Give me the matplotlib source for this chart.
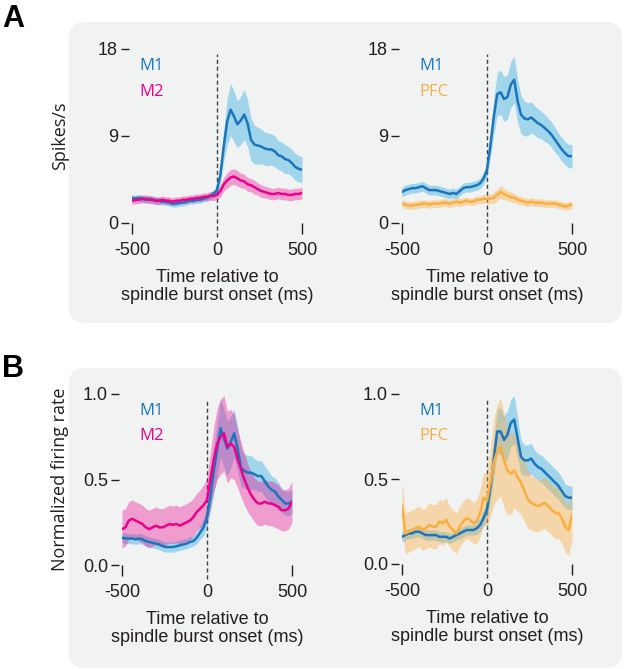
import numpy as np
import matplotlib
matplotlib.use("Agg")
import matplotlib.pyplot as plt
from matplotlib.patches import FancyBboxPatch

plt.rcParams['font.family'] = ['Liberation Sans', 'DejaVu Sans']

# time axis (ms relative to spindle burst onset), 20 ms bins
t = np.arange(-500, 501, 20)

# ---- Panel A, left: spikes/s, M1 vs M2
a_m1 = [2.6, 2.5, 2.6, 2.5, 2.4, 2.5, 2.4, 2.3, 2.3, 2.2, 2.2, 2.1, 2.0, 2.0, 2.1, 2.1, 2.2,
        2.3, 2.3, 2.4, 2.4, 2.5, 2.6, 2.8, 3.0,
        3.4, 5.0, 8.0, 10.5, 11.7, 11.0, 10.2, 10.6, 11.2, 10.3, 8.6, 8.1, 8.0, 7.9, 7.7, 7.6,
        7.6, 7.4, 7.0, 6.9, 6.6, 6.5, 6.2, 5.8, 5.6, 5.5]
a_m1_sem = [0.35, 0.35, 0.35, 0.35, 0.35, 0.35, 0.35, 0.35, 0.35, 0.35, 0.35, 0.35, 0.35, 0.35,
            0.35, 0.35, 0.35, 0.35, 0.35, 0.35, 0.35, 0.35, 0.35, 0.35, 0.4,
            0.5, 0.9, 1.6, 2.4, 2.7, 2.6, 2.4, 2.5, 2.6, 2.4, 2.2, 2.0, 1.9, 1.8, 1.7, 1.7,
            1.6, 1.6, 1.5, 1.5, 1.5, 1.4, 1.4, 1.4, 1.35, 1.35]
a_m2 = [2.3, 2.4, 2.4, 2.5, 2.5, 2.4, 2.4, 2.3, 2.3, 2.4, 2.3, 2.3, 2.2, 2.3, 2.3, 2.4, 2.4,
        2.5, 2.5, 2.6, 2.6, 2.7, 2.7, 2.8, 2.8,
        2.9, 3.3, 4.0, 4.4, 4.7, 4.8, 4.6, 4.4, 4.3, 4.0, 3.9, 3.7, 3.5, 3.3, 3.2, 3.1,
        3.0, 3.0, 3.1, 3.0, 3.0, 2.9, 2.9, 3.0, 3.0, 3.1]
a_m2_sem = [0.4, 0.4, 0.4, 0.4, 0.4, 0.4, 0.4, 0.4, 0.4, 0.4, 0.4, 0.4, 0.4, 0.4, 0.4, 0.4, 0.4,
            0.4, 0.4, 0.4, 0.4, 0.4, 0.4, 0.45, 0.5,
            0.5, 0.6, 0.7, 0.8, 0.8, 0.8, 0.8, 0.75, 0.75, 0.7, 0.7, 0.7, 0.65, 0.65, 0.6, 0.6,
            0.6, 0.6, 0.6, 0.6, 0.6, 0.6, 0.6, 0.6, 0.6, 0.6]

# ---- Panel A, right: spikes/s, M1 vs PFC
a2_m1 = [3.2, 3.4, 3.5, 3.6, 3.6, 3.7, 3.8, 3.6, 3.4, 3.4, 3.4, 3.3, 3.2, 3.1, 3.0, 3.1, 3.0,
         3.3, 3.6, 3.7, 3.7, 3.8, 3.9, 4.1, 4.6,
         5.5, 8.0, 11.0, 13.3, 13.5, 12.8, 13.0, 14.3, 14.8, 12.6, 11.2, 10.8, 10.7, 10.9, 10.6,
         10.3, 10.1, 9.8, 9.5, 9.1, 8.6, 8.1, 7.6, 7.2, 6.9, 6.9]
a2_m1_sem = [0.5, 0.5, 0.5, 0.5, 0.5, 0.5, 0.5, 0.5, 0.5, 0.5, 0.5, 0.5, 0.5, 0.5, 0.5, 0.5, 0.5,
             0.5, 0.5, 0.5, 0.5, 0.5, 0.5, 0.55, 0.6,
             0.7, 1.2, 1.8, 2.2, 2.3, 2.3, 2.3, 2.4, 2.4, 2.2, 2.0, 1.8, 1.7, 1.6, 1.5, 1.5,
             1.4, 1.4, 1.3, 1.3, 1.3, 1.2, 1.2, 1.2, 1.2, 1.2]
a2_pfc = [2.0, 1.9, 1.8, 1.8, 1.9, 1.9, 2.0, 2.0, 1.9, 2.0, 2.0, 2.0, 2.1, 2.1, 2.0, 2.1, 2.2,
          2.1, 2.2, 2.3, 2.2, 2.2, 2.4, 2.4, 2.5,
          2.5, 2.5, 2.6, 2.9, 3.2, 3.0, 2.8, 2.7, 2.6, 2.4, 2.3, 2.2, 2.1, 2.2, 2.1, 2.1,
          2.1, 2.0, 2.0, 2.0, 2.0, 1.9, 1.8, 1.7, 1.8, 1.9]
a2_pfc_sem = [0.4, 0.4, 0.4, 0.4, 0.4, 0.4, 0.4, 0.4, 0.4, 0.4, 0.4, 0.4, 0.4, 0.4, 0.4, 0.4, 0.4,
              0.4, 0.4, 0.4, 0.4, 0.4, 0.4, 0.4, 0.45,
              0.45, 0.5, 0.55, 0.6, 0.65, 0.6, 0.55, 0.5, 0.5, 0.45, 0.45, 0.4, 0.4, 0.4, 0.4, 0.4,
              0.4, 0.4, 0.4, 0.4, 0.4, 0.4, 0.4, 0.4, 0.4, 0.4]

# ---- Panel B, left: normalized firing rate, M1 vs M2
b_m1 = [0.16, 0.155, 0.155, 0.155, 0.15, 0.155, 0.15, 0.14, 0.135, 0.13, 0.125, 0.12, 0.11,
        0.105, 0.105, 0.105, 0.11, 0.115, 0.12, 0.125, 0.135, 0.14, 0.16, 0.19, 0.22,
        0.28, 0.40, 0.55, 0.68, 0.80, 0.74, 0.68, 0.72, 0.77, 0.68, 0.57, 0.55, 0.54, 0.54,
        0.53, 0.52, 0.52, 0.49, 0.46, 0.44, 0.43, 0.40, 0.38, 0.36, 0.36, 0.37]
b_m1_sem = [0.03, 0.03, 0.03, 0.03, 0.03, 0.03, 0.03, 0.03, 0.03, 0.03, 0.03, 0.03, 0.03, 0.03,
            0.03, 0.03, 0.03, 0.03, 0.03, 0.03, 0.03, 0.03, 0.035, 0.04, 0.05,
            0.06, 0.09, 0.13, 0.16, 0.17, 0.17, 0.16, 0.15, 0.14, 0.13, 0.11, 0.10, 0.10, 0.10,
            0.09, 0.09, 0.09, 0.09, 0.09, 0.08, 0.08, 0.08, 0.07, 0.07, 0.07, 0.07]
b_m2 = [0.21, 0.22, 0.26, 0.27, 0.26, 0.25, 0.24, 0.22, 0.21, 0.22, 0.23, 0.22, 0.22, 0.23,
        0.24, 0.235, 0.24, 0.23, 0.24, 0.25, 0.26, 0.28, 0.31, 0.33, 0.35,
        0.38, 0.50, 0.62, 0.71, 0.75, 0.77, 0.69, 0.71, 0.69, 0.62, 0.56, 0.50, 0.45, 0.41,
        0.38, 0.36, 0.36, 0.37, 0.36, 0.36, 0.35, 0.34, 0.32, 0.32, 0.33, 0.37]
b_m2_sem = [0.11, 0.11, 0.11, 0.11, 0.11, 0.11, 0.11, 0.11, 0.11, 0.11, 0.11, 0.11, 0.11, 0.11,
            0.11, 0.11, 0.11, 0.11, 0.11, 0.11, 0.11, 0.11, 0.11, 0.11, 0.12,
            0.13, 0.16, 0.19, 0.21, 0.22, 0.22, 0.21, 0.20, 0.19, 0.17, 0.16, 0.15, 0.14, 0.13,
            0.13, 0.13, 0.13, 0.13, 0.13, 0.13, 0.13, 0.13, 0.12, 0.12, 0.12, 0.12]

# ---- Panel B, right: normalized firing rate, M1 vs PFC
b2_m1 = [0.16, 0.17, 0.18, 0.18, 0.19, 0.19, 0.18, 0.17, 0.17, 0.17, 0.17, 0.16, 0.16, 0.16,
         0.15, 0.16, 0.17, 0.18, 0.19, 0.20, 0.20, 0.20, 0.21, 0.23, 0.27,
         0.32, 0.45, 0.62, 0.78, 0.78, 0.73, 0.76, 0.83, 0.85, 0.74, 0.63, 0.61, 0.61, 0.62,
         0.59, 0.57, 0.56, 0.54, 0.52, 0.50, 0.48, 0.46, 0.43, 0.40, 0.39, 0.39]
b2_m1_sem = [0.03, 0.03, 0.03, 0.03, 0.03, 0.03, 0.03, 0.03, 0.03, 0.03, 0.03, 0.03, 0.03, 0.03,
             0.03, 0.03, 0.03, 0.03, 0.03, 0.03, 0.03, 0.03, 0.035, 0.04, 0.05,
             0.06, 0.08, 0.11, 0.13, 0.14, 0.14, 0.14, 0.14, 0.14, 0.12, 0.10, 0.09, 0.09, 0.09,
             0.08, 0.08, 0.08, 0.08, 0.08, 0.08, 0.08, 0.08, 0.08, 0.07, 0.07, 0.07]
b2_pfc = [0.34, 0.18, 0.19, 0.20, 0.21, 0.22, 0.20, 0.21, 0.23, 0.22, 0.22, 0.25, 0.24, 0.26,
          0.22, 0.20, 0.18, 0.22, 0.25, 0.27, 0.26, 0.24, 0.25, 0.30, 0.39,
          0.37, 0.48, 0.60, 0.66, 0.69, 0.61, 0.55, 0.53, 0.55, 0.51, 0.48, 0.43, 0.38, 0.36,
          0.35, 0.34, 0.35, 0.36, 0.34, 0.32, 0.30, 0.30, 0.27, 0.22, 0.20, 0.29]
b2_pfc_sem = [0.15, 0.12, 0.12, 0.12, 0.12, 0.12, 0.12, 0.12, 0.13, 0.13, 0.13, 0.13, 0.13, 0.13,
              0.12, 0.12, 0.12, 0.12, 0.12, 0.12, 0.12, 0.12, 0.13, 0.14, 0.15,
              0.16, 0.20, 0.25, 0.28, 0.29, 0.28, 0.26, 0.24, 0.22, 0.20, 0.19, 0.18, 0.17, 0.16,
              0.16, 0.15, 0.15, 0.15, 0.15, 0.15, 0.15, 0.15, 0.15, 0.15, 0.15, 0.15]

BLUE, BLUE_SH = "#1b75bc", "#27aae1"
PINK, PINK_SH = "#ec008c", "#ec008c"
ORNG, ORNG_SH = "#fbae40", "#fbae40"
BOX = "#f1f2f2"
TXT = "#231f20"

fig = plt.figure(figsize=(6.24, 6.69), dpi=100)

# background rounded panels in pixel coordinates
bg = fig.add_axes([0, 0, 1, 1], zorder=-10)
bg.set_xlim(0, 624)
bg.set_ylim(669, 0)
bg.axis("off")
for (x0, y0, x1, y1) in [(69, 22, 622, 323), (69, 368, 622, 668)]:
    bg.add_patch(FancyBboxPatch((x0, y0), x1 - x0, y1 - y0,
                                boxstyle="round,pad=0,rounding_size=16",
                                fc=BOX, ec="none"))
bg.text(2, 27, "A", fontsize=22, fontweight="bold", color="black", va="baseline")
bg.text(2, 377, "B", fontsize=22, fontweight="bold", color="black", va="baseline")


def px_axes(x0, x1, ytop, ybot):
    return fig.add_axes([x0 / 624, 1 - ybot / 669, (x1 - x0) / 624, (ybot - ytop) / 669])


def style(ax, yticks, yticklabels, ymax):
    ax.set_facecolor("none")
    ax.set_xlim(-500, 500)
    ax.set_ylim(0, ymax)
    for s in ax.spines.values():
        s.set_visible(False)
    ax.spines["left"].set_position(("outward", 2))
    ax.set_xticks([-500, 0, 500])
    ax.set_xticklabels(["-500", "0", "500"])
    ax.set_yticks(yticks)
    ax.set_yticklabels(yticklabels)
    ax.tick_params(axis="x", direction="out", length=8, width=1, color=TXT, pad=6,
                   labelsize=13, labelcolor=TXT)
    ax.tick_params(axis="y", direction="out", length=6, width=1, color=TXT, pad=2,
                   labelsize=13, labelcolor=TXT)
    ax.xaxis.get_major_ticks()[1].tick1line.set_visible(False)
    ax.axvline(0, ymin=-0.08, ymax=0.97, color="#414042", lw=1, ls=(0, (3, 2)),
               clip_on=False, zorder=1)
    ax.set_xlabel("Time relative to\nspindle burst onset (ms)", fontsize=13, color=TXT,
                  linespacing=1.05, labelpad=7)


def pair(ax, m1, m1_sem, other, other_sem, c2, sh2, a2):
    m1, m1_sem = np.array(m1), np.array(m1_sem)
    other, other_sem = np.array(other), np.array(other_sem)
    ax.fill_between(t, m1 - m1_sem, m1 + m1_sem, color=BLUE_SH, alpha=0.4, lw=0, zorder=2)
    ax.fill_between(t, other - other_sem, other + other_sem, color=sh2, alpha=a2, lw=0,
                    zorder=3)
    ax.plot(t, m1, color=BLUE, lw=1.8, zorder=5)
    ax.plot(t, other, color=c2, lw=1.8, zorder=6)


def names(ax, x, top, bottom, c2):
    ax.text(x, 0.875, top, transform=ax.transAxes, color=BLUE, fontsize=12,
            family="Open Sans")
    ax.text(x, 0.73, bottom, transform=ax.transAxes, color=c2, fontsize=12,
            family="Open Sans")


ax1 = px_axes(132, 302, 48.7, 223)
style(ax1, [0, 9, 18], ["0", "9", "18"], 18)
pair(ax1, a_m1, a_m1_sem, a_m2, a_m2_sem, PINK, PINK_SH, 0.35)
names(ax1, 0.045, "M1", "M2", PINK)
ax1.set_ylabel("Spikes/s", fontsize=13, color=TXT, family="Open Sans")
ax1.yaxis.set_label_coords(-0.37, 0.5)

ax2 = px_axes(402, 572, 48.7, 223)
style(ax2, [0, 9, 18], ["0", "9", "18"], 18)
pair(ax2, a2_m1, a2_m1_sem, a2_pfc, a2_pfc_sem, ORNG, ORNG_SH, 0.4)
names(ax2, 0.1, "M1", "PFC", ORNG)

ax3 = px_axes(122, 292, 394, 565)
style(ax3, [0, 0.5, 1.0], ["0.0", "0.5", "1.0"], 1.0)
pair(ax3, b_m1, b_m1_sem, b_m2, b_m2_sem, PINK, PINK_SH, 0.35)
names(ax3, 0.1, "M1", "M2", PINK)
ax3.set_ylabel("Normalized firing rate", fontsize=13, color=TXT, family="Open Sans")
ax3.yaxis.set_label_coords(-0.31, 0.5)

ax4 = px_axes(402, 572, 394, 564)
style(ax4, [0, 0.5, 1.0], ["0.0", "0.5", "1.0"], 1.0)
pair(ax4, b2_m1, b2_m1_sem, b2_pfc, b2_pfc_sem, ORNG, ORNG_SH, 0.4)
names(ax4, 0.1, "M1", "PFC", ORNG)

fig.savefig("out.png", dpi=100)
